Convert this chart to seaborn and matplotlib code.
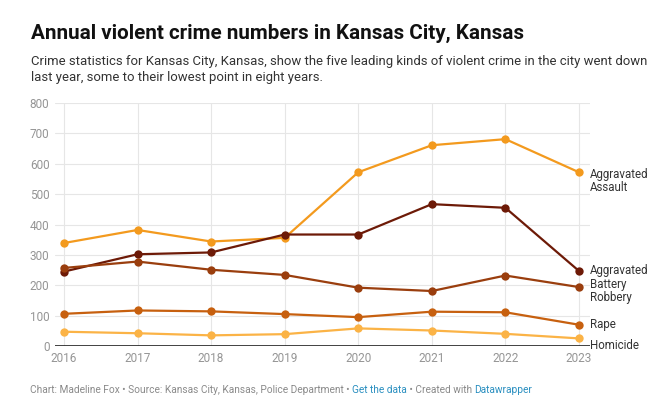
#!/usr/bin/env python3
"""Annual violent crime numbers in Kansas City, Kansas - line chart."""

import matplotlib

matplotlib.use("Agg")

import matplotlib.pyplot as plt
import pandas as pd
import seaborn as sns

years = [2016, 2017, 2018, 2019, 2020, 2021, 2022, 2023]
assault = [339, 382, 344, 356, 572, 661, 681, 572]
battery = [245, 302, 308, 367, 367, 467, 455, 247]
robbery = [257, 278, 251, 234, 192, 181, 232, 194]
rape = [106, 117, 114, 105, 95, 113, 111, 70]
homicide = [47, 42, 35, 39, 58, 51, 40, 25]

series_names = ["Aggravated Assault", "Aggravated Battery", "Robbery", "Rape", "Homicide"]
series_labels = ["Aggravated\nAssault", "Aggravated\nBattery", "Robbery", "Rape", "Homicide"]
y_ticks = [0, 100, 200, 300, 400, 500, 600, 700, 800]

colors = {
    "Aggravated Assault": "#f39a1e",
    "Aggravated Battery": "#6d1a07",
    "Robbery": "#9a3e0e",
    "Rape": "#c7600f",
    "Homicide": "#fbb346",
}


def main():
    sns.set_theme(style="white")
    plt.rcParams["font.family"] = ["Roboto", "DejaVu Sans"]

    df = pd.DataFrame(
        {
            "year": years * 5,
            "crime": [n for n in series_names for _ in years],
            "count": assault + battery + robbery + rape + homicide,
        }
    )

    fig = plt.figure(figsize=(6.6, 4.08), dpi=100)
    ax = fig.add_axes([55 / 660, 62 / 408, 535 / 660, 243 / 408])

    sns.lineplot(
        data=df,
        x="year",
        y="count",
        hue="crime",
        hue_order=series_names,
        palette=colors,
        marker="o",
        markersize=6,
        markeredgewidth=0,
        linewidth=1.6,
        legend=False,
        ax=ax,
        zorder=3,
    )

    ax.set_xlim(2016 - 0.122, 2023 + 0.15)
    ax.set_ylim(0, 800)
    ax.set_xticks(years)
    ax.set_yticks(y_ticks)
    ax.set_xlabel("")
    ax.set_ylabel("")
    ax.grid(True, color="#e6e6e6", linewidth=0.8)
    for s in ax.spines.values():
        s.set_visible(False)
    ax.axhline(0, color="#222222", linewidth=1.2, zorder=4)
    ax.tick_params(axis="both", length=0, labelsize=8.5, colors="#959595")
    ax.tick_params(axis="y", pad=4)
    ax.tick_params(axis="x", pad=4)

    # Étiquettes en bout de ligne (décalées à la main pour éviter les chevauchements)
    label_y = {
        "Aggravated Assault": 572 - 28,
        "Aggravated Battery": 247 - 22,
        "Robbery": 194 - 33,
        "Rape": 70,
        "Homicide": 25 - 24,
    }
    for name, text in zip(series_names, series_labels):
        ax.text(
            2023.15, label_y[name], text, fontsize=8.3, color="#333333",
            va="center", ha="left", linespacing=1.05, clip_on=False,
        )

    fig.text(31 / 660, 1 - 33 / 408, "Annual violent crime numbers in Kansas City, Kansas",
             fontsize=14.9, fontweight="bold", color="#111111", va="center", ha="left")
    fig.text(31 / 660, 1 - 70 / 408,
             "Crime statistics for Kansas City, Kansas, show the five leading kinds of violent crime in the city went down\n"
             "last year, some to their lowest point in eight years.",
             fontsize=9.45, color="#333333", va="center", ha="left", linespacing=1.3)

    # Pied de page
    grey = "#8a8a8a"
    blue = "#2a8fc0"
    parts = [
        ("Chart: Madeline Fox • Source: Kansas City, Kansas, Police Department • ", grey),
        ("Get the data", blue),
        (" • Created with ", grey),
        ("Datawrapper", blue),
    ]
    prev = fig.text(30 / 660, 1 - 390 / 408, parts[0][0], fontsize=7.3, color=parts[0][1],
                    va="center", ha="left")
    for txt, col in parts[1:]:
        prev = ax.annotate(txt, xy=(1, 0), xycoords=prev, xytext=(0, 0), textcoords="offset points",
                           fontsize=7.3, color=col, va="bottom", ha="left", annotation_clip=False)

    fig.savefig("out.png", dpi=100, facecolor="white")


if __name__ == "__main__":
    main()
